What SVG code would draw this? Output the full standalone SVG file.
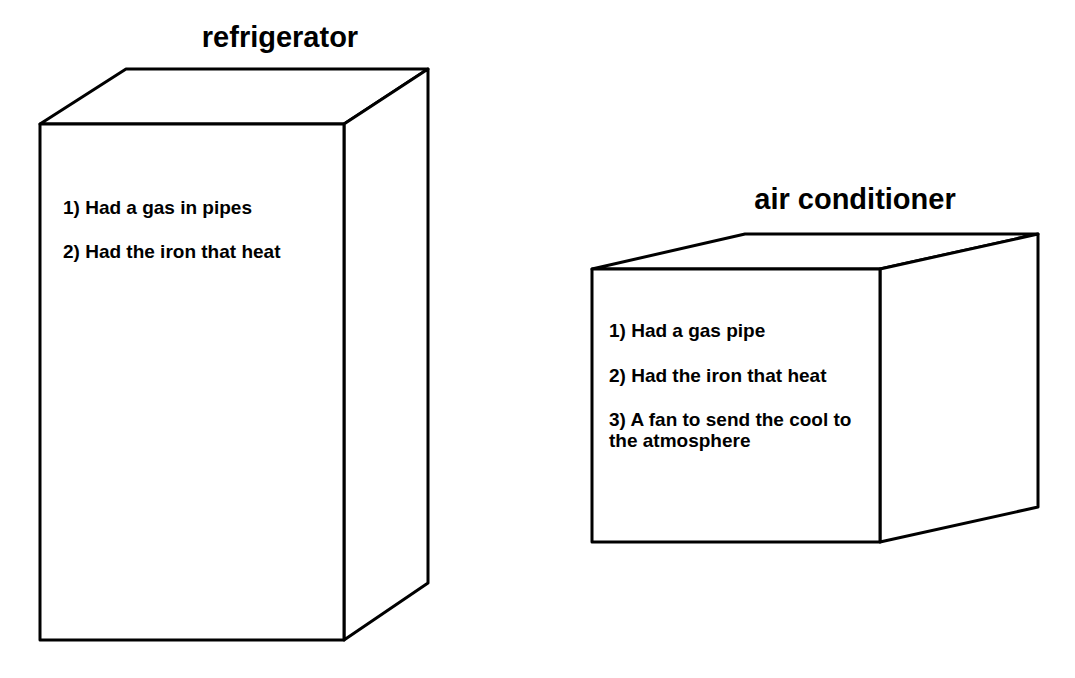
<svg xmlns="http://www.w3.org/2000/svg" width="1075" height="678" viewBox="0 0 1075 678">
<style>
.box{fill:#fff;stroke:#000;stroke-width:3;stroke-linejoin:round}
.t{font-family:"Liberation Sans",Arial,sans-serif;font-weight:bold;fill:#000}
.title{font-size:29px;text-anchor:middle}
.item{font-size:19px}
</style>
<rect width="1075" height="678" fill="#fff"/>
<g id="refrigerator">
<polygon class="box" points="40,124 126,69 428,69 344,124"/>
<polygon class="box" points="344,124 428,69 428,583 344,640"/>
<rect class="box" x="40" y="124" width="304" height="516"/>
<text class="t title" x="280" y="47">refrigerator</text>
<text class="t item" x="63" y="214">1) Had a gas in pipes</text>
<text class="t item" x="63" y="258">2) Had the iron that heat</text>
</g>
<g id="air-conditioner">
<polygon class="box" points="592,269 745,234 1038,234 880,269"/>
<polygon class="box" points="880,269 1038,234 1038,507 880,542"/>
<rect class="box" x="592" y="269" width="288" height="273"/>
<text class="t title" x="855" y="209">air conditioner</text>
<text class="t item" x="609" y="337">1) Had a gas pipe</text>
<text class="t item" x="609" y="382">2) Had the iron that heat</text>
<text class="t item" x="609" y="426">3) A fan to send the cool to</text>
<text class="t item" x="609" y="447">the atmosphere</text>
</g>
<g id="connectors"/>
</svg>
